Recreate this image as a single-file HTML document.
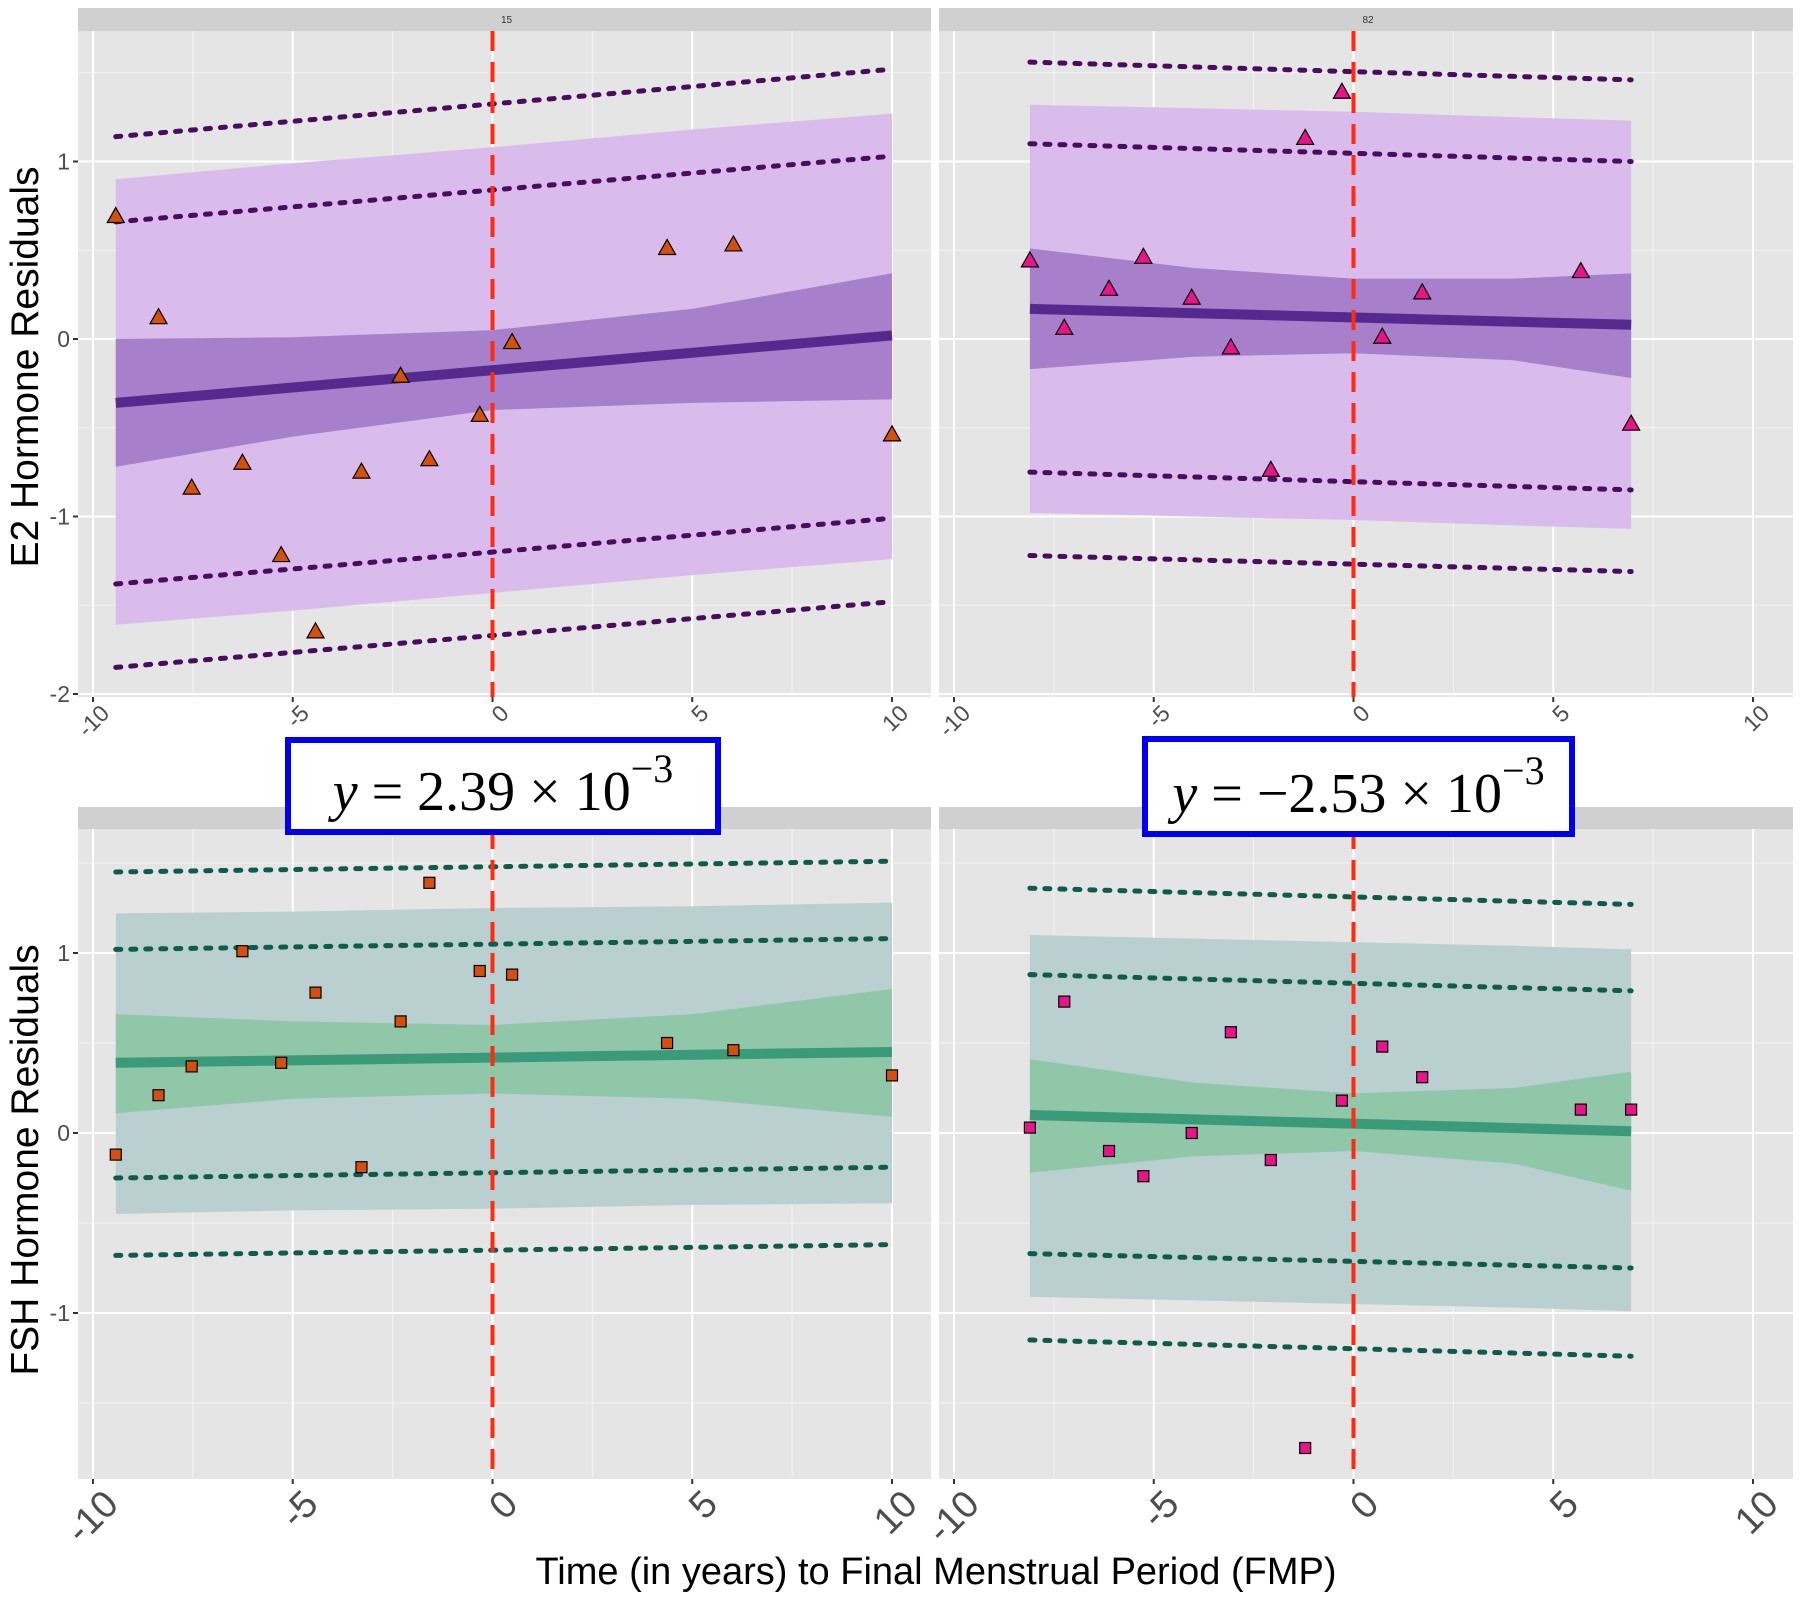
<!DOCTYPE html>
<html><head><meta charset="utf-8"><style>
html,body{margin:0;padding:0;background:#fff;}
svg{display:block;}
</style></head><body>
<svg id="chart" width="1800" height="1600" xmlns="http://www.w3.org/2000/svg"></svg>
<script>
// ---- data ----
const xTicks=[-10,-5,0,5,10];
const xTickLabels=["-10","-5","0","5","10"];
const topYTicks=[-2,-1,0,1];
const botYTicks=[-1,0,1];
// Panel 15 E2
const e2_15_x=[-9.43,-8.36,-7.53,-6.26,-5.29,-4.43,-3.28,-2.30,-1.58,-0.32,0.49,4.37,6.03,10.0];
const e2_15_y=[0.69,0.12,-0.84,-0.70,-1.22,-1.65,-0.75,-0.21,-0.68,-0.43,-0.02,0.51,0.53,-0.54];
const e2_15_bandX=[-9.43,-5,0,5,10];
const e2_15_innerLo=[-0.72,-0.55,-0.40,-0.36,-0.34];
const e2_15_innerHi=[0.0,0.01,0.05,0.17,0.37];
const e2_15_outerLo=[-1.61,-1.53,-1.43,-1.33,-1.24];
const e2_15_outerHi=[0.90,0.99,1.08,1.18,1.27];
const e2_15_fit=[-0.36,0.02];
const e2_15_dotStart=[1.14,0.66,-1.38,-1.85];
const e2_15_dotEnd=[1.52,1.03,-1.01,-1.48];
// Panel 82 E2
const e2_82_x=[-8.10,-7.24,-6.12,-5.26,-4.05,-3.07,-2.07,-1.21,-0.29,0.72,1.72,5.69,6.95];
const e2_82_y=[0.44,0.06,0.28,0.46,0.23,-0.05,-0.74,1.13,1.39,0.01,0.26,0.38,-0.48];
const e2_82_bandX=[-8.10,-4,0,4,6.95];
const e2_82_innerLo=[-0.17,-0.10,-0.08,-0.12,-0.22];
const e2_82_innerHi=[0.51,0.40,0.34,0.34,0.37];
const e2_82_outerLo=[-0.98,-1.00,-1.02,-1.05,-1.07];
const e2_82_outerHi=[1.32,1.30,1.28,1.25,1.23];
const e2_82_fit=[0.17,0.08];
const e2_82_dotStart=[1.56,1.10,-0.75,-1.22];
const e2_82_dotEnd=[1.46,1.00,-0.85,-1.31];
// Panel 15 FSH
const fsh_15_x=[-9.43,-8.36,-7.53,-6.26,-5.29,-4.43,-3.28,-2.30,-1.58,-0.32,0.49,4.37,6.03,10.0];
const fsh_15_y=[-0.12,0.21,0.37,1.01,0.39,0.78,-0.19,0.62,1.39,0.90,0.88,0.50,0.46,0.32];
const fsh_15_bandX=[-9.43,-5,0,5,10];
const fsh_15_innerLo=[0.11,0.19,0.22,0.19,0.09];
const fsh_15_innerHi=[0.66,0.62,0.60,0.66,0.80];
const fsh_15_outerLo=[-0.45,-0.43,-0.42,-0.40,-0.39];
const fsh_15_outerHi=[1.22,1.23,1.25,1.26,1.28];
const fsh_15_fit=[0.39,0.45];
const fsh_15_dotStart=[1.45,1.02,-0.25,-0.68];
const fsh_15_dotEnd=[1.51,1.08,-0.19,-0.62];
// Panel 82 FSH
const fsh_82_x=[-8.10,-7.24,-6.12,-5.26,-4.05,-3.07,-2.07,-1.21,-0.29,0.72,1.72,5.69,6.95];
const fsh_82_y=[0.03,0.73,-0.10,-0.24,0.00,0.56,-0.15,-1.75,0.18,0.48,0.31,0.13,0.13];
const fsh_82_bandX=[-8.10,-4,0,4,6.95];
const fsh_82_innerLo=[-0.22,-0.13,-0.10,-0.17,-0.32];
const fsh_82_innerHi=[0.41,0.28,0.22,0.25,0.34];
const fsh_82_outerLo=[-0.91,-0.93,-0.95,-0.97,-0.99];
const fsh_82_outerHi=[1.10,1.08,1.06,1.04,1.02];
const fsh_82_fit=[0.10,0.01];
const fsh_82_dotStart=[1.36,0.88,-0.67,-1.15];
const fsh_82_dotEnd=[1.27,0.79,-0.75,-1.24];

const NS="http://www.w3.org/2000/svg";
const svg=document.getElementById('chart');
function el(tag,attrs,parent,text){const e=document.createElementNS(NS,tag);for(const k in attrs)e.setAttribute(k,attrs[k]);if(text!==undefined)e.textContent=text;(parent||svg).appendChild(e);return e;}

const panels=[
 {name:'e2-panel-15',x0:78,x1:931,y0:31,y1:697,strip:[8,31],label:'15',xs:e2_15_x,ys:e2_15_y,bx:e2_15_bandX,il:e2_15_innerLo,ih:e2_15_innerHi,ol:e2_15_outerLo,oh:e2_15_outerHi,fit:e2_15_fit,ds:e2_15_dotStart,de:e2_15_dotEnd,top:true,pt:'#d4500e',shape:'tri'},
 {name:'e2-panel-82',x0:939,x1:1793,y0:31,y1:697,strip:[8,31],label:'82',xs:e2_82_x,ys:e2_82_y,bx:e2_82_bandX,il:e2_82_innerLo,ih:e2_82_innerHi,ol:e2_82_outerLo,oh:e2_82_outerHi,fit:e2_82_fit,ds:e2_82_dotStart,de:e2_82_dotEnd,top:true,pt:'#e8148a',shape:'tri'},
 {name:'fsh-panel-15',x0:78,x1:931,y0:829,y1:1479,strip:[807,829],label:'15',xs:fsh_15_x,ys:fsh_15_y,bx:fsh_15_bandX,il:fsh_15_innerLo,ih:fsh_15_innerHi,ol:fsh_15_outerLo,oh:fsh_15_outerHi,fit:fsh_15_fit,ds:fsh_15_dotStart,de:fsh_15_dotEnd,top:false,pt:'#d4500e',shape:'sq'},
 {name:'fsh-panel-82',x0:939,x1:1793,y0:829,y1:1479,strip:[807,829],label:'82',xs:fsh_82_x,ys:fsh_82_y,bx:fsh_82_bandX,il:fsh_82_innerLo,ih:fsh_82_innerHi,ol:fsh_82_outerLo,oh:fsh_82_outerHi,fit:fsh_82_fit,ds:fsh_82_dotStart,de:fsh_82_dotEnd,top:false,pt:'#e8148a',shape:'sq'}
];

panels.forEach((p,pi)=>{
  const left=pi%2===0;
  const X=v=>p.x0+15+(v+10)*39.95;
  let Y;
  if(p.top){Y=v=>339-177.5*v;} else {Y=v=>1133-180*v;}
  const g=el('g',{});  
  const st=el('rect',{x:p.x0,y:p.strip[0],width:p.x1-p.x0,height:p.strip[1]-p.strip[0],fill:'#d0d0d0'},g);
   
  const stt=el('text',{x:(p.x0+p.x1)/2+2,y:p.strip[0]+15,'font-size':10,'font-family':'Liberation Sans, sans-serif',fill:'#333','text-anchor':'middle'},g,p.label);
   
  const bg=el('rect',{x:p.x0,y:p.y0,width:p.x1-p.x0,height:p.y1-p.y0,fill:'#e5e5e5'},g);
   
  const yt=p.top?topYTicks:botYTicks;
  const yLo=p.top?-2.25:-1.9, yHi=p.top?1.75:1.65;
  for(let v=Math.ceil(yLo*2)/2; v<=yHi; v+=0.5){
    const major=Math.abs(v-Math.round(v))<1e-6;
    const gl=el('line',{x1:p.x0,x2:p.x1,y1:Y(v),y2:Y(v),stroke:'#fff','stroke-width':major?2:1,opacity:major?1:0.6},g);
     
  }
  for(let v=-10; v<=10; v+=2.5){
    const major=v%5===0;
    const gl=el('line',{x1:X(v),x2:X(v),y1:p.y0,y2:p.y1,stroke:'#fff','stroke-width':major?2:1,opacity:major?1:0.6},g);
     
  }
  const c=p.top?{outer:'#d9bcec',inner:'#a77fca',line:'#552a8e',dot:'#4b0b5f'}:{outer:'#bacfcf',inner:'#8fc7a8',line:'#3a9a7a',dot:'#0f5c4c'};
  function band(lo,hi,fill,name){
    let d='';
    p.bx.forEach((v,i)=>{d+=(i?'L':'M')+X(v)+','+Y(hi[i]);});
    for(let i=p.bx.length-1;i>=0;i--){d+='L'+X(p.bx[i])+','+Y(lo[i]);}
    const b=el('path',{d:d+'Z',fill:fill},g);
     
  }
  band(p.ol,p.oh,c.outer,'prediction-band');
  band(p.il,p.ih,c.inner,'confidence-band');
  const xa=p.bx[0], xb=p.bx[p.bx.length-1];
  const fl=el('line',{x1:X(xa),y1:Y(p.fit[0]),x2:X(xb),y2:Y(p.fit[1]),stroke:c.line,'stroke-width':10},g);
   
  p.ds.forEach((v,i)=>{
    const dl=el('line',{x1:X(xa),y1:Y(v),x2:X(xb),y2:Y(p.de[i]),stroke:c.dot,'stroke-width':5,'stroke-dasharray':'5 10','stroke-linecap':'round'},g);
     
  });
  const vl=el('line',{x1:X(0),x2:X(0),y1:p.y0,y2:p.y1,stroke:'#ff2a0f','stroke-width':4,'stroke-dasharray':'20 11'},g);
   
  p.xs.forEach((v,i)=>{
    const cx=X(v), cy=Y(p.ys[i]); let m;
    if(p.shape==='tri'){m=el('path',{d:`M${cx},${cy-9}L${cx+8.5},${cy+6}L${cx-8.5},${cy+6}Z`,fill:p.pt,stroke:'#000','stroke-width':1.2},g);}
    else {m=el('rect',{x:cx-5.5,y:cy-5.5,width:11,height:11,fill:p.pt,stroke:'#000','stroke-width':1.2},g);}
     
  });
  if(left){
    yt.forEach(v=>{
      el('line',{x1:p.x0-5,x2:p.x0,y1:Y(v),y2:Y(v),stroke:'#333','stroke-width':2},g);
      const t=el('text',{x:p.x0-8,y:Y(v)+8,'font-size':23,'font-family':'Liberation Sans, sans-serif',fill:'#4d4d4d','text-anchor':'end'},g,String(v));
       
    });
  }
  xTicks.forEach((v,i)=>{
    el('line',{x1:X(v),x2:X(v),y1:p.y1,y2:p.y1+5,stroke:'#333','stroke-width':2},g);
    const fs=p.top?23:38;
    const ax=X(v)+(p.top?6:8), ay=p.y1+(p.top?6:8);
    const t=el('text',{x:ax,y:ay,'font-size':fs,'font-family':'Liberation Sans, sans-serif',fill:'#4d4d4d','text-anchor':'end',transform:`rotate(-45 ${ax} ${ay})`,dy:fs*0.72},g,xTickLabels[i]);
     
  });
});

let t=el('text',{x:38,y:367,'font-size':39,'font-family':'Liberation Sans, sans-serif',fill:'#000','text-anchor':'middle',transform:'rotate(-90 38 367)'},svg,'E2 Hormone Residuals');
 
t=el('text',{x:38,y:1160,'font-size':39,'font-family':'Liberation Sans, sans-serif',fill:'#000','text-anchor':'middle',transform:'rotate(-90 38 1160)'},svg,'FSH Hormone Residuals');
 
t=el('text',{x:936,y:1584,'font-size':38,'font-family':'Liberation Sans, sans-serif',fill:'#000','text-anchor':'middle'},svg,'Time (in years) to Final Menstrual Period (FMP)');
 

function eqBox(x,y,w,h,txt,sup,name){
  const g=el('g',{});  
  el('rect',{x:x+3,y:y+3,width:w-6,height:h-6,fill:'#fff',stroke:'#0000ee','stroke-width':6},g);
  const tx=el('text',{x:x+w/2,y:y+h-25,'font-size':56,'font-family':'Liberation Serif, serif',fill:'#000','text-anchor':'middle'},g);
  el('tspan',{'font-style':'italic'},tx,'y');
  el('tspan',{},tx,txt);
  el('tspan',{dy:-28,'font-size':40},tx,sup);
}
eqBox(285,737,436,98,' = 2.39 × 10','−3','equation-box-e2');
eqBox(1142,736,433,101,' = −2.53 × 10','−3','equation-box-fsh');
</script>
</body></html>
